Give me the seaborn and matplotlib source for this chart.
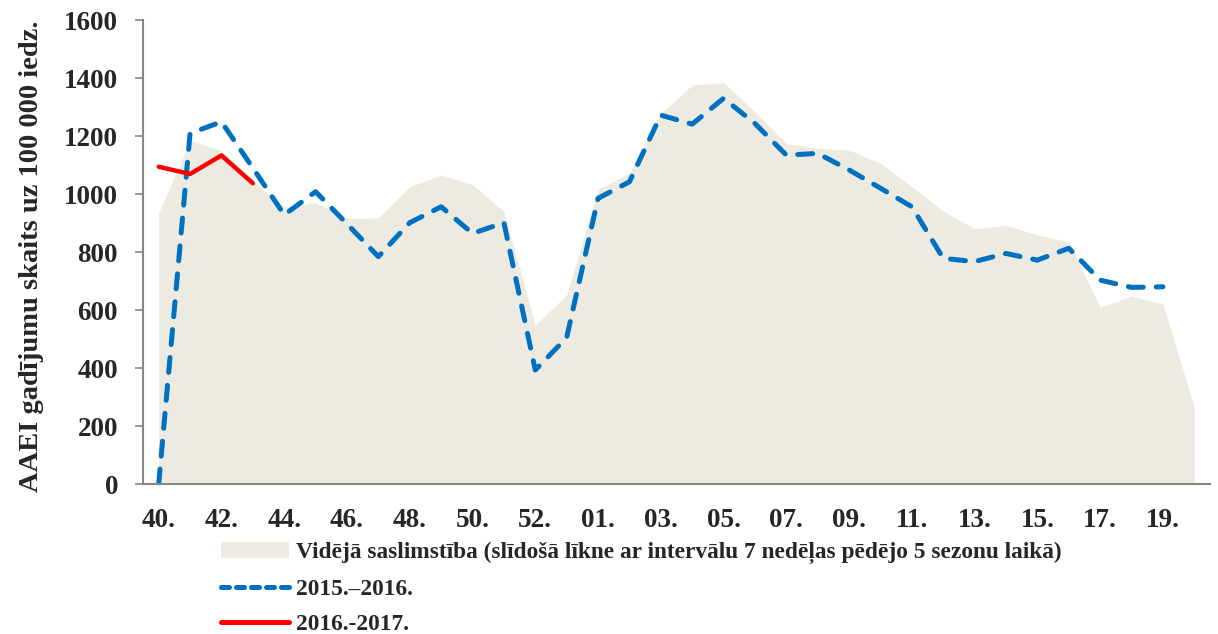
import numpy as np
import pandas as pd
import matplotlib
matplotlib.use("Agg")
import matplotlib.pyplot as plt
import seaborn as sns
from matplotlib.patches import Patch
from matplotlib.lines import Line2D

# ---- data ----
weeks = ["40", "41", "42", "43", "44", "45", "46", "47", "48", "49", "50", "51", "52", "53",
         "01", "02", "03", "04", "05", "06", "07", "08", "09", "10", "11", "12", "13", "14",
         "15", "16", "17", "18", "19", "20"]
avg_incidence = [935, 1185, 1150, 1045, 956, 970, 916, 918, 1025, 1065, 1033, 939, 548, 652,
                 1016, 1071, 1278, 1376, 1384, 1284, 1175, 1157, 1152, 1106, 1025, 941, 880, 892,
                 859, 836, 609, 648, 621, 264]
season_2015_2016 = [0, 1209, 1249, 1090, 928, 1008, 897, 784, 901, 956, 864, 901, 393, 505,
                    985, 1042, 1272, 1241, 1330, 1243, 1134, 1140, 1083, 1020, 956, 778, 767, 795,
                    772, 813, 703, 678, 680, np.nan]
season_2016_2017 = [1094, 1069, 1133, 1037] + [np.nan] * 30
y_ticks = [0, 200, 400, 600, 800, 1000, 1200, 1400, 1600]

label_avg = "Vidējā saslimstība (slīdošā līkne ar intervālu 7 nedēļas pēdējo 5 sezonu laikā)"
label_1516 = "2015.–2016."
label_1617 = "2016.-2017."
ylabel = "AAEI gadījumu skaits uz 100 000 iedz."

# ---- style ----
sns.set_style("white")
plt.rcParams["font.family"] = ["Liberation Serif", "DejaVu Serif"]
plt.rcParams["font.weight"] = "bold"

col_area = "#EDEBE1"
col_blue = "#0070C0"
col_red = "#FF0000"
col_axis = "#868686"

x = np.arange(len(weeks))
df = pd.DataFrame({"x": x, "avg": avg_incidence, "s1516": season_2015_2016, "s1617": season_2016_2017})

fig = plt.figure(figsize=(12.18, 6.34), dpi=100)
ax = fig.add_axes([143 / 1218, 1 - 484 / 634, (1210 - 143) / 1218, (484 - 20) / 634])

ax.fill_between(df["x"], 0, df["avg"], color=col_area, linewidth=0, zorder=1)
sns.lineplot(data=df, x="x", y="s1516", ax=ax, color=col_blue, linewidth=3.6,
             zorder=3, legend=False)
ax.lines[-1].set_linestyle((0, (3.0, 2.6)))
ax.lines[-1].set_dash_capstyle("round")
sns.lineplot(data=df, x="x", y="s1617", ax=ax, color=col_red, linewidth=3.2,
             zorder=4, legend=False)

ax.set_xlim(-0.5, len(weeks) - 0.5)
ax.set_ylim(0, 1600)
ax.set_yticks(y_ticks)
ax.set_yticklabels([str(v) for v in y_ticks], fontsize=19.5, fontweight="bold")

ax.set_xticks(x[::2])
ax.set_xticklabels([w + "." for w in weeks[::2]], fontsize=19.5, fontweight="bold")
ax.set_xticks(np.arange(-0.5, len(weeks), 1), minor=True)
ax.tick_params(axis="x", which="major", length=0, pad=17)
ax.tick_params(axis="x", which="minor", length=6, width=1.2, color=col_axis, direction="out")
ax.tick_params(axis="y", which="major", length=6, width=1.2, color=col_axis, direction="out", pad=12, left=True)

for s in ["top", "right"]:
    ax.spines[s].set_visible(False)
for s in ["left", "bottom"]:
    ax.spines[s].set_color(col_axis)
    ax.spines[s].set_linewidth(1.5)
    ax.spines[s].set_zorder(5)

ax.set_xlabel("")
ax.set_ylabel(ylabel, fontsize=20.5, fontweight="bold")
ax.yaxis.set_label_coords(-0.093, 0.491)
ax.grid(False)

handles = [
    Patch(facecolor=col_area, edgecolor="none"),
    Line2D([0], [0], color=col_blue, linewidth=3.6, linestyle=(0, (1.6, 1.4)), dash_capstyle="round"),
    Line2D([0], [0], color=col_red, linewidth=3.6, solid_capstyle="round"),
]
fig.legend(handles, [label_avg, label_1516, label_1617], loc="upper left",
           bbox_to_anchor=(221 / 1218, 1 - 542 / 634), frameon=False,
           prop={"family": ["Liberation Serif", "DejaVu Serif"], "weight": "bold", "size": 16.8},
           handlelength=2.9, handleheight=0.65, handletextpad=0.3, labelspacing=0.62,
           borderaxespad=0, borderpad=0)

fig.savefig("out.png", dpi=100)
